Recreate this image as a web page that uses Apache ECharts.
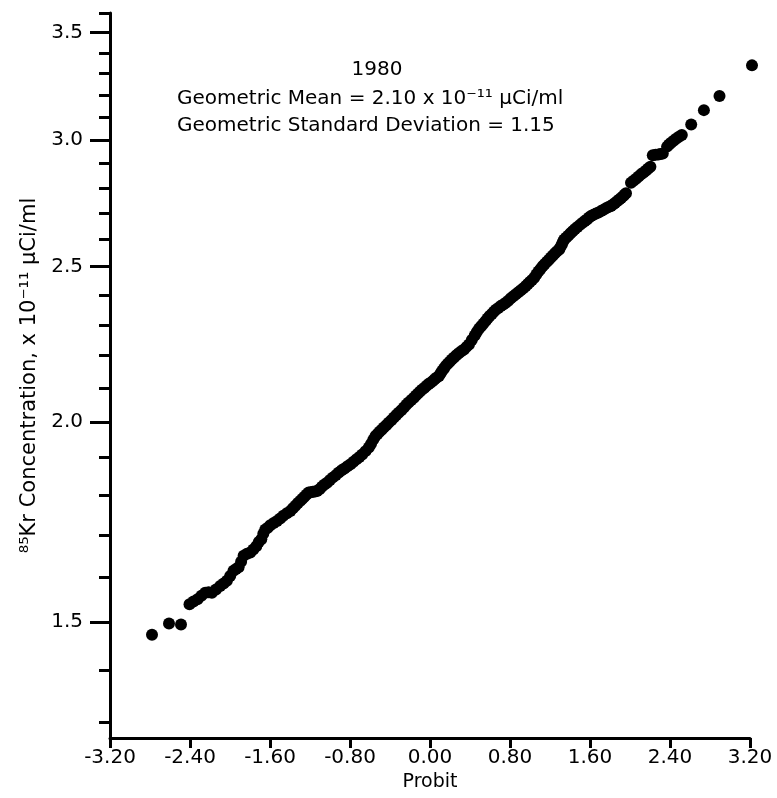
<!DOCTYPE html>
<html>
<head>
<meta charset="utf-8">
<script src="https://cdn.jsdelivr.net/npm/echarts@6/dist/echarts.min.js"></script>
<style>
  html, body { margin: 0; padding: 0; background: #fff; }
  #chart { width: 777px; height: 798px; }
</style>
</head>
<body>
<div id="chart"></div>
<script>
// probit of each sample left to right
const probit = [
  -2.78, -2.61, -2.49, -2.405, -2.365, -2.325, -2.286, -2.248, -2.214, -2.181,
  -2.140, -2.098, -2.064, -2.031, -1.998, -1.965, -1.940, -1.914, -1.889, -1.864,
  -1.830, -1.797, -1.767, -1.737, -1.712, -1.687, -1.667, -1.647, -1.622, -1.597,
  -1.563, -1.530, -1.498, -1.467, -1.431, -1.396, -1.371, -1.346, -1.321, -1.296,
  -1.276, -1.256, -1.234, -1.213, -1.192, -1.171, -1.150, -1.129, -1.105, -1.081,
  -1.055, -1.029, -1.000, -0.971, -0.941, -0.912, -0.883, -0.855, -0.825, -0.795,
  -0.765, -0.735, -0.706, -0.678, -0.645, -0.612, -0.590, -0.567, -0.545, -0.525,
  -0.505, -0.483, -0.462, -0.438, -0.414, -0.387, -0.361, -0.337, -0.314, -0.287,
  -0.261, -0.237, -0.214, -0.187, -0.161, -0.140, -0.119, -0.098, -0.077, -0.055,
  -0.034, -0.014, 0.006, 0.026, 0.046, 0.068, 0.090, 0.106, 0.122, 0.140,
  0.157, 0.177, 0.197, 0.218, 0.240, 0.263, 0.287, 0.313, 0.340, 0.365,
  0.390, 0.418, 0.447, 0.468, 0.490, 0.511, 0.533, 0.554, 0.575, 0.596,
  0.618, 0.638, 0.658, 0.683, 0.708, 0.733, 0.758, 0.783, 0.808, 0.833,
  0.858, 0.883, 0.908, 0.933, 0.958, 0.978, 0.998, 1.020, 1.042, 1.063,
  1.084, 1.105, 1.126, 1.147, 1.169, 1.189, 1.209, 1.229, 1.249, 1.270,
  1.292, 1.305, 1.319, 1.330, 1.342, 1.363, 1.384, 1.405, 1.426, 1.450,
  1.474, 1.500, 1.526, 1.548, 1.570, 1.590, 1.610, 1.635, 1.660, 1.685,
  1.710, 1.735, 1.760, 1.785, 1.810, 1.830, 1.850, 1.871, 1.893, 1.911,
  1.930, 1.945, 1.960, 2.010, 2.035, 2.061, 2.086, 2.111, 2.136, 2.161,
  2.182, 2.204, 2.228, 2.256, 2.284, 2.306, 2.328, 2.371, 2.391, 2.411,
  2.436, 2.461, 2.490, 2.518, 2.612, 2.739, 2.895, 3.22
]
// 85Kr concentration, x 10^-11 uCi/ml
const conc = [
  1.473, 1.497, 1.495, 1.539, 1.545, 1.550, 1.558, 1.565, 1.566, 1.565,
  1.572, 1.580, 1.586, 1.592, 1.603, 1.615, 1.619, 1.623, 1.636, 1.650,
  1.655, 1.658, 1.665, 1.673, 1.683, 1.690, 1.703, 1.714, 1.718, 1.724,
  1.730, 1.735, 1.741, 1.748, 1.754, 1.760, 1.767, 1.773, 1.780, 1.786,
  1.791, 1.796, 1.802, 1.807, 1.808, 1.809, 1.810, 1.811, 1.816, 1.822,
  1.828, 1.833, 1.840, 1.847, 1.853, 1.860, 1.866, 1.871, 1.877, 1.882,
  1.889, 1.896, 1.902, 1.909, 1.918, 1.928, 1.938, 1.950, 1.960, 1.966,
  1.972, 1.978, 1.984, 1.991, 1.998, 2.005, 2.013, 2.020, 2.027, 2.034,
  2.042, 2.050, 2.057, 2.064, 2.071, 2.078, 2.084, 2.090, 2.096, 2.101,
  2.107, 2.112, 2.116, 2.121, 2.127, 2.132, 2.137, 2.145, 2.153, 2.160,
  2.168, 2.175, 2.181, 2.188, 2.194, 2.201, 2.208, 2.214, 2.220, 2.228,
  2.236, 2.250, 2.265, 2.276, 2.287, 2.295, 2.303, 2.312, 2.321, 2.329,
  2.336, 2.343, 2.350, 2.356, 2.363, 2.368, 2.374, 2.381, 2.389, 2.396,
  2.403, 2.410, 2.417, 2.424, 2.432, 2.439, 2.446, 2.453, 2.461, 2.472,
  2.483, 2.492, 2.502, 2.510, 2.518, 2.525, 2.533, 2.541, 2.549, 2.556,
  2.563, 2.572, 2.582, 2.591, 2.600, 2.607, 2.615, 2.623, 2.631, 2.639,
  2.647, 2.655, 2.663, 2.670, 2.676, 2.683, 2.689, 2.694, 2.699, 2.703,
  2.708, 2.713, 2.719, 2.724, 2.728, 2.734, 2.740, 2.747, 2.754, 2.760,
  2.766, 2.772, 2.778, 2.821, 2.829, 2.837, 2.846, 2.855, 2.863, 2.871,
  2.879, 2.886, 2.934, 2.936, 2.938, 2.940, 2.942, 2.971, 2.980, 2.988,
  2.996, 3.005, 3.013, 3.021, 3.067, 3.131, 3.195, 3.339
]
const yMajor = [1.5, 2.0, 2.5, 3.0, 3.5]
const yMinor = [1.3, 1.4, 1.6, 1.7, 1.8, 1.9, 2.1, 2.2, 2.3, 2.4, 2.6, 2.7, 2.8, 2.9, 3.1, 3.2, 3.3, 3.4, 3.6]
const yearText = '1980'
const meanText = 'Geometric Mean = 2.10 x 10⁻¹¹ µCi/ml'
const gsdText = 'Geometric Standard Deviation = 1.15'

const font = 'DejaVu Sans'
const ink = '#000'

const chart = echarts.init(document.getElementById('chart'), null, { renderer: 'canvas' })

const points = probit.map((p, i) => [p, conc[i]])

chart.setOption({
  backgroundColor: '#fff',
  animation: false,
  textStyle: { fontFamily: font, color: ink },
  grid: {
    left: 110,
    right: 27,
    top: 13,
    bottom: 60,
    containLabel: false,
    outerBoundsMode: 'none'
  },
  xAxis: {
    type: 'value',
    min: -3.2,
    max: 3.2,
    interval: 0.8,
    name: 'Probit',
    nameLocation: 'middle',
    nameGap: 35,
    nameTextStyle: { fontFamily: font, fontSize: 19, color: ink },
    axisLine: { onZero: false, lineStyle: { color: ink, width: 3 } },
    axisTick: { length: 10, lineStyle: { color: ink, width: 3 } },
    axisLabel: {
      margin: 10,
      fontFamily: font,
      fontSize: 20,
      color: ink,
      formatter: v => v.toFixed(2)
    },
    splitLine: { show: false }
  },
  yAxis: [
    {
      type: 'log',
      min: 1.27,
      max: 3.6,
      position: 'left',
      name: '⁸⁵Kr Concentration, x 10⁻¹¹ µCi/ml',
      nameLocation: 'middle',
      nameRotate: 90,
      nameGap: 70,
      nameTextStyle: { fontFamily: font, fontSize: 21, color: ink },
      axisLine: { onZero: false, lineStyle: { color: ink, width: 3 } },
      axisTick: { length: 20, customValues: yMajor, lineStyle: { color: ink, width: 3 } },
      axisLabel: {
        margin: 27,
        fontFamily: font,
        fontSize: 20,
        color: ink,
        customValues: yMajor,
        formatter: v => Number(v).toFixed(1)
      },
      splitLine: { show: false }
    },
    {
      // minor ticks only
      type: 'log',
      min: 1.27,
      max: 3.6,
      position: 'left',
      axisLine: { show: false, onZero: false },
      axisTick: { length: 11, customValues: yMinor, lineStyle: { color: ink, width: 3 } },
      axisLabel: { show: false },
      splitLine: { show: false }
    }
  ],
  graphic: [
    {
      type: 'text',
      x: 377,
      y: 70,
      style: {
        text: yearText,
        font: '20px "DejaVu Sans"',
        fill: ink,
        align: 'center',
        textAlign: 'center',
        verticalAlign: 'middle',
        textVerticalAlign: 'middle'
      }
    },
    {
      type: 'text',
      x: 177,
      y: 99,
      style: {
        text: meanText,
        font: '20px "DejaVu Sans"',
        fill: ink,
        align: 'left',
        verticalAlign: 'middle',
        textVerticalAlign: 'middle'
      }
    },
    {
      type: 'text',
      x: 177,
      y: 126,
      style: {
        text: gsdText,
        font: '20px "DejaVu Sans"',
        fill: ink,
        align: 'left',
        verticalAlign: 'middle',
        textVerticalAlign: 'middle'
      }
    }
  ],
  series: [{
    type: 'scatter',
    yAxisIndex: 0,
    clip: false,
    symbol: 'circle',
    symbolSize: 12,
    itemStyle: { color: ink, opacity: 1 },
    data: points
  }]
})
</script>
</body>
</html>
